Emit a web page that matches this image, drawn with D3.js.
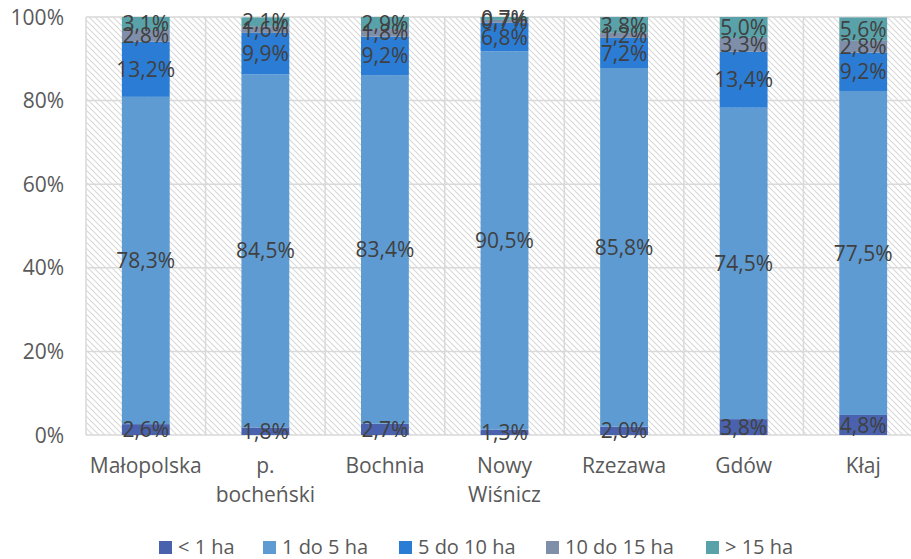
<!DOCTYPE html>
<html><head><meta charset="utf-8">
<script src="https://cdn.jsdelivr.net/npm/d3@7"></script>
<style>body{margin:0;background:#fff}svg{display:block}</style>
</head><body>
<svg id="c" width="911" height="559"></svg>
<script>
const categories = ["Małopolska", "p. bocheński", "Bochnia", "Nowy Wiśnicz", "Rzezawa", "Gdów", "Kłaj"];
const categoryLines = [["Małopolska"], ["p.", "bocheński"], ["Bochnia"], ["Nowy", "Wiśnicz"], ["Rzezawa"], ["Gdów"], ["Kłaj"]];
const seriesNames = ["< 1 ha", "1 do 5 ha", "5 do 10 ha", "10 do 15 ha", "> 15 ha"];
const lt1 = [2.6, 1.8, 2.7, 1.3, 2.0, 3.8, 4.8];
const s1to5 = [78.3, 84.5, 83.4, 90.5, 85.8, 74.5, 77.5];
const s5to10 = [13.2, 9.9, 9.2, 6.8, 7.2, 13.4, 9.2];
const s10to15 = [2.8, 1.6, 1.8, 0.7, 1.2, 3.3, 2.8];
const gt15 = [3.1, 2.1, 2.9, 0.7, 3.8, 5.0, 5.6];
const yTicks = [0, 20, 40, 60, 80, 100];
const colors = ["#4a62ad", "#5e9bd2", "#2b7cd5", "#7f8ea9", "#5aa2a9"];

(function () {
const series = [lt1, s1to5, s5to10, s10to15, gt15];
const svg = d3.select("#c");
const pl = 86, pr = 923, pt = 17, pb = 435;
const x = d3.scaleBand().domain(categories).range([pl, pr]).padding(0);
const y = d3.scaleLinear().domain([0, 100]).range([pb, pt]);
const font = "'Open Sans', sans-serif";
const fs = 21;

// hatch pattern
const defs = svg.append("defs");
const pat = defs.append("pattern").attr("id", "hatch").attr("patternUnits", "userSpaceOnUse")
  .attr("width", 6).attr("height", 6);
pat.append("rect").attr("width", 6).attr("height", 6).attr("fill", "#fff");
pat.append("path").attr("d", "M-1,-1 L7,7 M-1,5 L1,7 M5,-1 L7,1").attr("stroke", "#d9d9d9").attr("stroke-width", 1.1);
svg.append("rect").attr("x", pl).attr("y", pt).attr("width", pr - pl).attr("height", pb - pt).attr("fill", "url(#hatch)");

// gridlines
svg.append("g").selectAll("line").data(yTicks).join("line")
  .attr("x1", pl).attr("x2", pr).attr("y1", d => y(d)).attr("y2", d => y(d))
  .attr("stroke", "#d9d9d9").attr("stroke-width", 1.5);
const vb = categories.map(c => x(c)).concat([pr]);
svg.append("g").selectAll("line").data(vb).join("line")
  .attr("x1", d => d).attr("x2", d => d).attr("y1", pt).attr("y2", pb)
  .attr("stroke", "#d9d9d9").attr("stroke-width", 1.5);

// y axis labels
svg.append("g").selectAll("text").data(yTicks).join("text")
  .attr("x", 64).attr("y", d => y(d)).attr("dy", "0.36em").attr("text-anchor", "end")
  .attr("font-family", font).attr("font-size", fs).attr("fill", "#595959").text(d => d + "%");

// stack
const rows = categories.map((c, i) => { const r = { cat: c }; seriesNames.forEach((s, k) => r[s] = series[k][i]); return r; });
const stack = d3.stack().keys(seriesNames)(rows);
const bw = x.bandwidth() * 0.4;
const fmt = v => v.toFixed(1).replace(".", ",") + "%";

stack.forEach((layer, k) => {
  svg.append("g").selectAll("rect").data(layer).join("rect")
    .attr("x", d => x(d.data.cat) + (x.bandwidth() - bw) / 2)
    .attr("width", bw)
    .attr("y", d => y(d[1]))
    .attr("height", d => y(d[0]) - y(d[1]))
    .attr("fill", colors[k]);
});
stack.forEach((layer, k) => {
  svg.append("g").selectAll("text").data(layer).join("text")
    .attr("x", d => x(d.data.cat) + x.bandwidth() / 2)
    .attr("y", d => (y(d[0]) + y(d[1])) / 2)
    .attr("dy", "0.36em").attr("text-anchor", "middle")
    .attr("font-family", font).attr("font-size", fs).attr("fill", "#404040")
    .text(d => fmt(d.data[seriesNames[k]]));
});

// x labels
categoryLines.forEach((lines, i) => {
  const cx = x(categories[i]) + x.bandwidth() / 2;
  const t = svg.append("text").attr("text-anchor", "middle").attr("font-family", font)
    .attr("font-size", fs).attr("fill", "#595959");
  lines.forEach((l, j) => t.append("tspan").attr("x", cx).attr("y", 473 + j * 29).text(l));
});

// legend
const legX = [159, 263, 399, 546, 706];
const lg = svg.append("g");
seriesNames.forEach((s, k) => {
  lg.append("rect").attr("x", legX[k]).attr("y", 541).attr("width", 13).attr("height", 13).attr("fill", colors[k]);
  lg.append("text").attr("x", legX[k] + 19).attr("y", 554).attr("font-family", font).attr("font-size", 20)
    .attr("fill", "#595959").text(s);
});
})();
</script>
</body></html>
